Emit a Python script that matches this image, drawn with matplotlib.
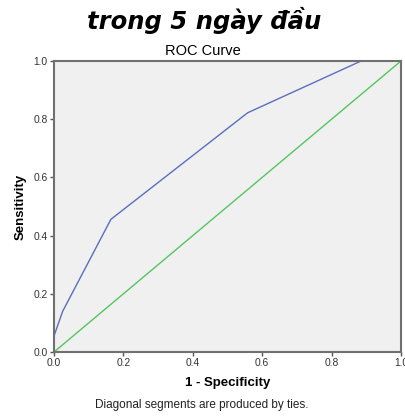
import matplotlib.pyplot as plt

# ROC curve points
fpr = [0.0, 0.0, 0.025, 0.164, 0.558, 0.885, 1.0]
tpr = [0.0, 0.055, 0.14, 0.456, 0.822, 1.0, 1.0]
ref = [0.0, 1.0]
ticks = [0.0, 0.2, 0.4, 0.6, 0.8, 1.0]
tick_labels = ["0.0", "0.2", "0.4", "0.6", "0.8", "1.0"]

plt.rcParams['font.family'] = ['Liberation Sans', 'DejaVu Sans']

fig = plt.figure(figsize=(4.06, 4.16), dpi=100)
ax = fig.add_axes([0.133, 0.1538, 0.8547, 0.6996])
ax.set_facecolor('#f0f0f0')

ax.plot(ref, ref, color='#55c560', lw=1.0)
ax.plot(fpr, tpr, color='#5a6ebf', lw=1.0)

ax.set_xlim(0, 1)
ax.set_ylim(0, 1)
ax.set_xticks(ticks)
ax.set_xticklabels(tick_labels)
ax.set_yticks(ticks)
ax.set_yticklabels(tick_labels)
ax.tick_params(direction='out', length=3, width=1, colors='#555555',
               labelcolor='#333333', labelsize=7.4, pad=1.5)
for s in ax.spines.values():
    s.set_color('#707070')
    s.set_linewidth(1.5)

ax.set_xlabel('1 - Specificity', fontsize=9.5, fontweight='bold', labelpad=6)
ax.set_ylabel('Sensitivity', fontsize=9.5, fontweight='bold', labelpad=5)

fig.text(0.5, 1 - 51 / 416, 'ROC Curve', ha='center', va='center', fontsize=10.5)
fig.text(0.502, 1 - 20 / 416, 'trong 5 ngày đầu', ha='center', va='center',
         fontsize=17.5, fontweight='heavy', fontstyle='italic', family='DejaVu Sans')
fig.text(0.497, 1 - 405 / 416, 'Diagonal segments are produced by ties.',
         ha='center', va='center', fontsize=8.5, color='#222222')

fig.savefig('out.png', dpi=100, facecolor='white')
